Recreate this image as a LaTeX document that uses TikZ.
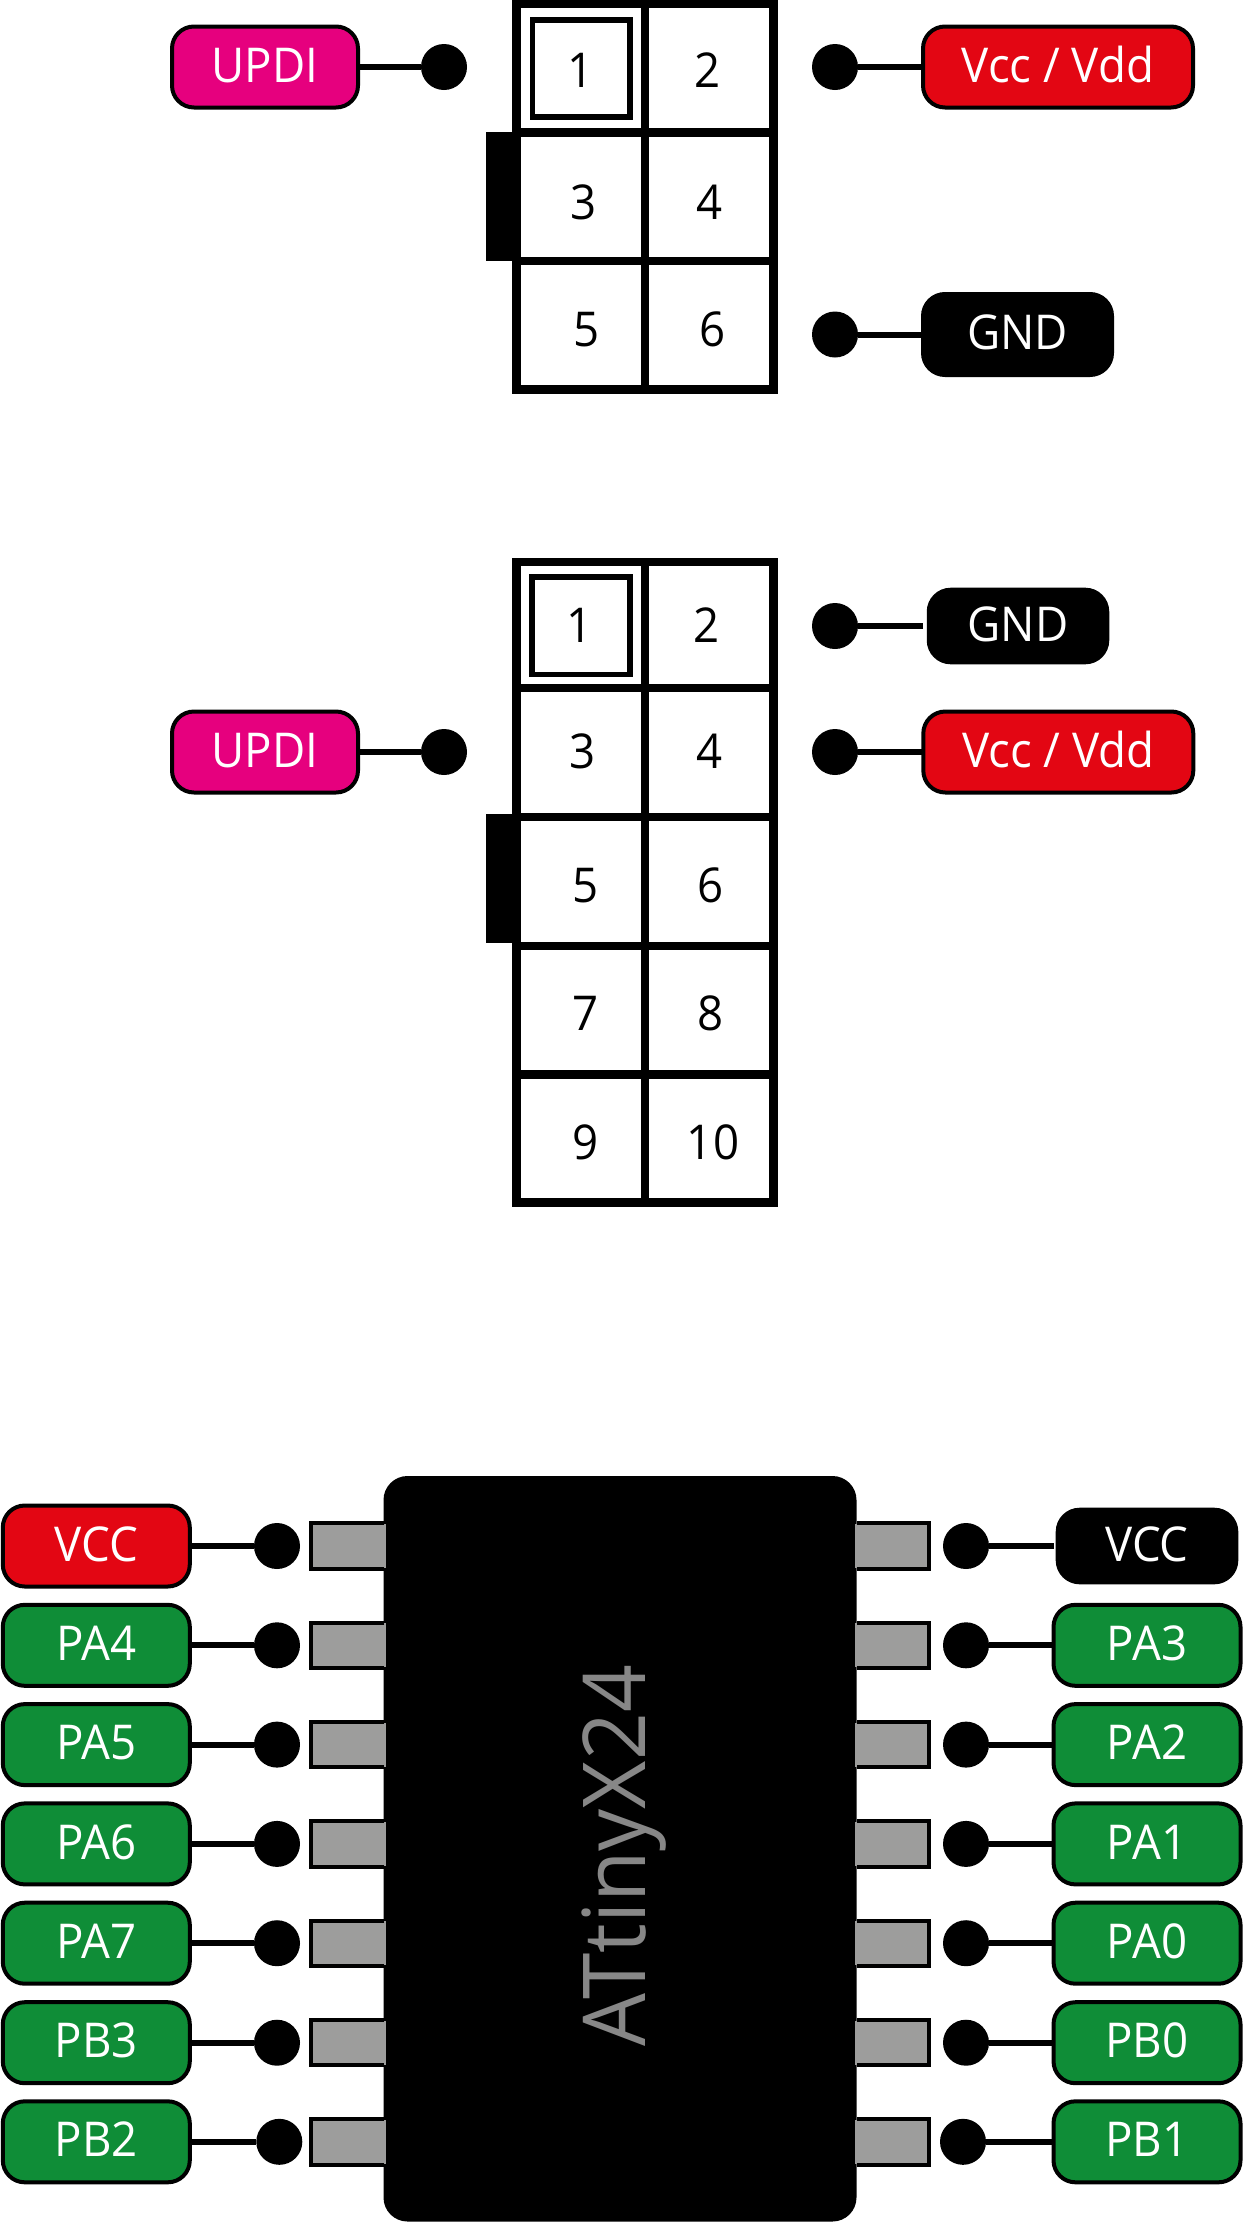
\documentclass[tikz,border=0pt]{standalone}
\usepackage{fontspec}
\setmainfont[FakeStretch=0.95]{Open Sans}
\newfontfamily\chipfont[FakeStretch=0.964]{Open Sans}
\definecolor{pink}{HTML}{E6007E}
\definecolor{red1}{HTML}{E30613}
\definecolor{green1}{HTML}{0F8D37}
\definecolor{grey1}{HTML}{9D9D9C}
\definecolor{grey2}{HTML}{878787}
\tikzset{
  px/.style={x=0.5pt,y=-0.5pt},
  pill/.style 2 args={draw=black,line width=2pt,rounded corners=11pt,fill=#1,text=white,
     minimum width=#2*0.5pt,minimum height=40.5pt,inner sep=0pt,outer sep=0pt,
     font=\fontsize{24}{24}\selectfont,text height=17.1pt,text depth=2pt},
  slimpill/.style={minimum height=36.3pt},
  dotnode/.style={circle,fill=black,draw=none,minimum size=23pt,inner sep=0pt,outer sep=0pt},
  wire/.style={line width=3pt,black},
  gridline/.style={line width=4.2pt,black,line cap=rect},
  innerbox/.style={draw=black,line width=2.8pt,fill=none},
  num/.style={font=\fontsize{24}{24}\selectfont,inner sep=0pt,text height=17.1pt,text depth=0pt},
  padedge/.style={line width=2pt,black},
}
\begin{document}
\begin{tikzpicture}[px]
\useasboundingbox (0,0) rectangle (1243,2222);
% ---- header 1
\fill[black] (486,132.3) rectangle (520,261);
\draw[gridline] (516.5,4) rectangle (773.5,389.5);
\draw[gridline] (644.7,4) -- (644.7,389.5);
\draw[gridline] (516.5,132.5) -- (773.5,132.5);
\draw[gridline] (516.5,261) -- (773.5,261);
\draw[innerbox] (532.3,19.7) rectangle (629.8,117);
\node[num] (ha1) at (581,70.5) {1};
\node[num] (ha2) at (708,70.5) {2};
\node[num] (ha3) at (583.5,202.3) {3};
\node[num] (ha4) at (710,202.3) {4};
\node[num] (ha5) at (587,329) {5};
\node[num] (ha6) at (712.5,329) {6};
\node[pill={pink}{186}] (au) at (265,67) {UPDI};
\node[dotnode] (aud) at (444,67) {};
\draw[wire] (au) -- (aud);
\node[pill={red1}{270}] (av) at (1058,67) {Vcc / Vdd};
\node[dotnode] (avd) at (835,67) {};
\draw[wire] (av) -- (avd);
\node[pill={black}{189}] (ag) at (1017.5,334.5) {GND};
\node[dotnode] (agd) at (835,334.5) {};
\draw[wire] (ag) -- (agd);
% ---- header 2
\fill[black] (486,814) rectangle (520,942.7);
\draw[gridline] (516.5,561.7) rectangle (773.5,1202.5);
\draw[gridline] (644.7,561.7) -- (644.7,1202.5);
\foreach \yy in {688,817,946,1074.5}
  \draw[gridline] (516.5,\yy) -- (773.5,\yy);
\draw[innerbox] (532,577) rectangle (630,674.5);
\node[num] (hb1) at (580,625) {1};
\node[num] (hb2) at (707,625) {2};
\node[num] (hb3) at (583,751) {3};
\node[num] (hb4) at (710,751) {4};
\node[num] (hb5) at (586,885) {5};
\node[num] (hb6) at (711,885) {6};
\node[num] (hb7) at (586,1013) {7};
\node[num] (hb8) at (711,1013) {8};
\node[num] (hb9) at (586,1142.5) {9};
\node[num] (hb10) at (713,1142.5) {10};
\node[pill={pink}{186}] (bu) at (265,752) {UPDI};
\node[dotnode] (bud) at (444,752) {};
\draw[wire] (bu) -- (bud);
\node[pill={red1}{270}] (bv) at (1058.3,752) {Vcc / Vdd};
\node[dotnode] (bvd) at (835,752) {};
\draw[wire] (bv) -- (bvd);
\node[pill={black}{178.5},slimpill] (bg) at (1018,626) {GND};
\node[dotnode] (bgd) at (835,626) {};
\coordinate (bge) at (923,626);
\draw[wire] (bge) -- (bgd);
% ---- chip
\fill[black,rounded corners=12pt] (383.5,1476) rectangle (856.5,2221.5);
\foreach \nm/\yy/\ll/\rl/\lc/\rc/\ldx/\rdx in {
  0/1546/VCC/VCC/red1/black/277/966,
  1/1645.3/PA4/PA3/green1/green1/277/966,
  2/1744.6/PA5/PA2/green1/green1/277/966,
  3/1843.9/PA6/PA1/green1/green1/277/966,
  4/1943.2/PA7/PA0/green1/green1/277/966,
  5/2042.7/PB3/PB0/green1/green1/277/966,
  6/2141.8/PB2/PB1/green1/green1/279.3/963}{
  \fill[grey1] (311,\yy-22) rectangle (386,\yy+22);
  \draw[padedge] (384,\yy-22.7) -- (311,\yy-22.7) -- (311,\yy+22.7) -- (384,\yy+22.7);
  \fill[grey1] (855,\yy-22) rectangle (929,\yy+22);
  \draw[padedge] (857,\yy-22.7) -- (929,\yy-22.7) -- (929,\yy+22.7) -- (857,\yy+22.7);
  \node[pill={\lc}{187}] (l\nm) at (96.3,\yy) {\ll};
  \node[dotnode] (ld\nm) at (\ldx,\yy) {};
  \draw[wire] (l\nm) -- (ld\nm);
  \node[dotnode] (rd\nm) at (\rdx,\yy) {};
  \ifnum\nm=0
    \node[pill={\rc}{178.6},slimpill] (r\nm) at (1147,\yy) {\rl};
    \coordinate (re) at (1054,\yy);
    \draw[wire] (re) -- (rd\nm);
  \else
    \node[pill={\rc}{187}] (r\nm) at (1147,\yy) {\rl};
    \draw[wire] (r\nm) -- (rd\nm);
  \fi
}
\node[rotate=90,anchor=base,text=grey2,font=\chipfont\fontsize{43.4}{43.4}\selectfont,inner sep=0pt] (chipname) at (645,1856) {ATtinyX24};
\end{tikzpicture}
\end{document}
